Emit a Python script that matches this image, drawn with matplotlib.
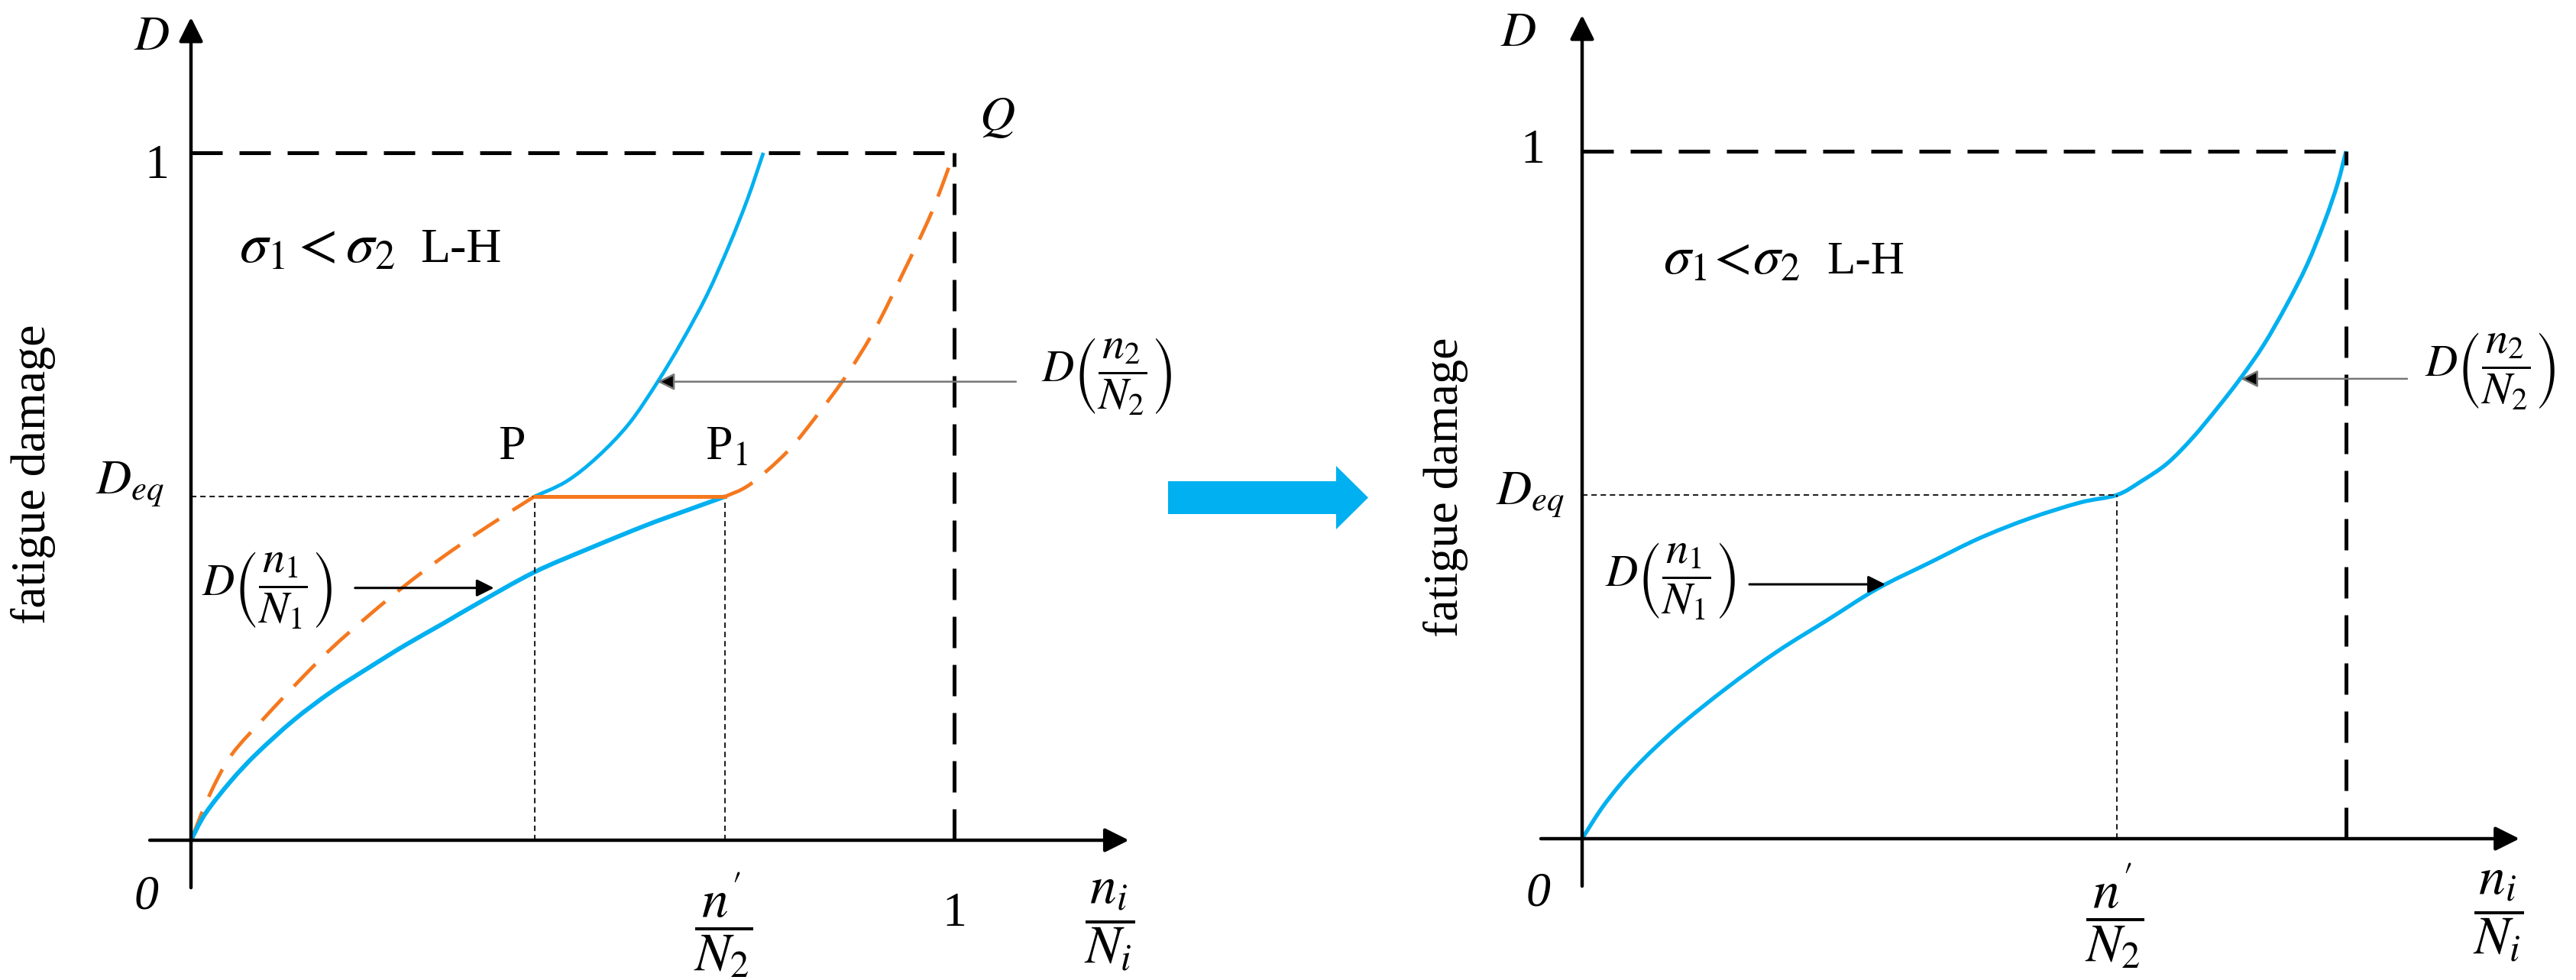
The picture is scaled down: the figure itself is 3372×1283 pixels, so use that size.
import matplotlib
matplotlib.use("Agg")
import matplotlib.pyplot as plt
from matplotlib.patches import FancyArrow, PathPatch
from matplotlib.path import Path

plt.rcParams['font.family'] = ['Liberation Serif', 'DejaVu Serif']
plt.rcParams['mathtext.fontset'] = 'stix'

BLUE = '#00B0F0'
ORANGE = '#F5781E'

# values: x = n_i/N_i, y = damage D
d_eq = 0.5
p_x = 0.45     # point P
p1_x = 0.70    # point P1, n'/N2

# left: blue curve for sigma_1, origin -> P1
low1_x = [0, 0.019, 0.053, 0.087, 0.135, 0.184, 0.233, 0.281, 0.330, 0.378, 0.450, 0.523, 0.596, 0.645, 0.70]
low1_y = [0, 0.039, 0.087, 0.127, 0.175, 0.216, 0.251, 0.284, 0.315, 0.346, 0.390, 0.425, 0.458, 0.478, 0.50]
# left: blue curve for sigma_2, P -> D=1
up2_x = [0.45, 0.492, 0.533, 0.574, 0.611, 0.643, 0.676, 0.705, 0.729, 0.750]
up2_y = [0.50, 0.522, 0.558, 0.606, 0.666, 0.725, 0.793, 0.865, 0.932, 1.0]
# left: orange dashed sigma_2 curve, origin -> P and P1 -> Q
or_low_x = [0, 0.024, 0.053, 0.097, 0.141, 0.184, 0.233, 0.281, 0.330, 0.388, 0.45]
or_low_y = [0, 0.065, 0.124, 0.179, 0.231, 0.279, 0.327, 0.371, 0.412, 0.456, 0.50]
or_up_x = [0.70, 0.733, 0.782, 0.823, 0.860, 0.897, 0.933, 0.970, 1.0]
or_up_y = [0.50, 0.518, 0.566, 0.622, 0.678, 0.745, 0.825, 0.912, 1.0]
# right: equivalent blue curve, origin -> n'/N2 -> 1
right_x = [0, 0.030, 0.070, 0.123, 0.189, 0.255, 0.321, 0.387, 0.454, 0.520, 0.586, 0.652, 0.70,
           0.732, 0.766, 0.799, 0.832, 0.862, 0.892, 0.922, 0.949, 0.972, 0.989, 1.0]
right_y = [0, 0.051, 0.104, 0.160, 0.219, 0.272, 0.318, 0.364, 0.401, 0.437, 0.466, 0.489, 0.500,
           0.520, 0.546, 0.583, 0.627, 0.670, 0.718, 0.776, 0.835, 0.898, 0.953, 1.0]

W, H = 3372, 1283
fig = plt.figure(figsize=(W / 100, H / 100), dpi=100)


def make_axes(ox, oy, sx, sy, xlim, ylim):
    # ox, oy: pixel of the origin (from top-left), sx, sy: pixels per unit
    left = (ox + xlim[0] * sx) / W
    bottom = (H - oy + ylim[0] * sy) / H
    ax = fig.add_axes([left, bottom, (xlim[1] - xlim[0]) * sx / W, (ylim[1] - ylim[0]) * sy / H])
    ax.set_xlim(*xlim)
    ax.set_ylim(*ylim)
    ax.axis('off')
    return ax


def curve(ax, xs, ys, **kw):
    # smooth bezier path through the read points
    pts = list(zip(xs, ys))
    verts, codes = [pts[0]], [Path.MOVETO]
    for i in range(len(pts) - 1):
        p0 = pts[max(i - 1, 0)]
        p1, p2 = pts[i], pts[i + 1]
        p3 = pts[min(i + 2, len(pts) - 1)]
        c1 = (p1[0] + (p2[0] - p0[0]) / 6, p1[1] + (p2[1] - p0[1]) / 6)
        c2 = (p2[0] - (p3[0] - p1[0]) / 6, p2[1] - (p3[1] - p1[1]) / 6)
        verts += [c1, c2, p2]
        codes += [Path.CURVE4] * 3
    ax.add_patch(PathPatch(Path(verts, codes), fill=False, capstyle='butt', joinstyle='round', **kw))


def arrow(ax, start, end, color='k', lw=3.2, ms=48, fc=None):
    ax.annotate('', xy=end, xytext=start,
                arrowprops=dict(arrowstyle='-|>', lw=lw, ec=color, fc=fc or color,
                                mutation_scale=ms, shrinkA=0, shrinkB=0))


def frame(ax, x_end, y_top):
    arrow(ax, (-0.054, 0), (x_end, 0))
    arrow(ax, (0, -0.069), (0, y_top))
    ax.plot([0, 1], [1, 1], color='k', lw=3.6, dashes=(8.2, 4.4))
    ax.plot([1, 1], [0, 1], color='k', lw=3.6, dashes=(8.2, 4.4))


dot = dict(color='#222222', lw=1.5, dashes=(3.4, 2.4))
fs = 46
lab_fs = 50
d_fs = 42

# ---------------- left panel ----------------
ax1 = make_axes(250, 1100, 999, 900, (-0.25, 1.28), (-0.2, 1.2256))
frame(ax1, 1.229, 1.197)
ax1.plot([0, p1_x], [d_eq, d_eq], **dot)
ax1.plot([p_x, p_x], [0, d_eq], **dot)
ax1.plot([p1_x, p1_x], [0, d_eq], **dot)
curve(ax1, or_low_x, or_low_y, ec=ORANGE, lw=3.4, ls=(0, (8.5, 4.5)))
curve(ax1, or_up_x, or_up_y, ec=ORANGE, lw=3.4, ls=(0, (8.5, 4.5)))
ax1.plot([p_x, p1_x], [d_eq, d_eq], color=ORANGE, lw=3.6)
curve(ax1, low1_x, low1_y, ec=BLUE, lw=4.2)
curve(ax1, up2_x, up2_y, ec=BLUE, lw=3.4)

ax1.text(-0.051, 1.167, r'$D$', fontsize=fs, ha='center', va='center')
ax1.text(-0.045, 0.98, '1', fontsize=fs, ha='center', va='center')
ax1.text(-0.059, -0.083, '0', fontsize=fs, style='italic', ha='center', va='center')
ax1.text(1.0, -0.108, '1', fontsize=fs, ha='center', va='center')
ax1.text(1.056, 1.05, r'$Q$', fontsize=fs, ha='center', va='center')
ax1.text(-0.035, 0.504, r'$D_{eq}$', fontsize=fs, ha='right', va='baseline')
ax1.text(0.42, 0.554, 'P', fontsize=fs, ha='center', va='baseline')
ax1.text(0.674, 0.554, r'P$_1$', fontsize=fs, ha='left', va='baseline')
ax1.text(0.063, 0.841, r'$\sigma_1 < \sigma_2$', fontsize=54, ha='left', va='baseline')
ax1.text(0.30, 0.841, 'L-H', fontsize=fs, ha='left', va='baseline')
ax1.text(0.697, -0.124, r"$\dfrac{n'}{N_2}$", fontsize=lab_fs, ha='center', va='center')
ax1.text(1.203, -0.124, r'$\dfrac{n_i}{N_i}$', fontsize=lab_fs, ha='center', va='center')
ax1.text(-0.207, 0.533, 'fatigue damage', fontsize=fs, rotation=90, ha='center', va='center')
ax1.text(0.014, 0.364, r'$D\left(\dfrac{n_1}{N_1}\right)$', fontsize=d_fs, ha='left', va='center')
ax1.text(1.114, 0.675, r'$D\left(\dfrac{n_2}{N_2}\right)$', fontsize=d_fs, ha='left', va='center')
arrow(ax1, (0.215, 0.367), (0.397, 0.367), lw=2.2, ms=34)
arrow(ax1, (1.081, 0.667), (0.611, 0.667), color='#777777', fc='k', lw=1.8, ms=34)

# ---------------- right panel ----------------
ax2 = make_axes(2071, 1098, 1000, 900, (-0.27, 1.30), (-0.2022, 1.2233))
frame(ax2, 1.227, 1.198)
ax2.plot([0, p1_x], [d_eq, d_eq], **dot)
ax2.plot([p1_x, p1_x], [0, d_eq], **dot)
curve(ax2, right_x, right_y, ec=BLUE, lw=3.8)

ax2.text(-0.083, 1.17, r'$D$', fontsize=fs, ha='center', va='center')
ax2.text(-0.065, 1.0, '1', fontsize=fs, ha='center', va='center')
ax2.text(-0.057, -0.08, '0', fontsize=fs, style='italic', ha='center', va='center')
ax2.text(-0.023, 0.5, r'$D_{eq}$', fontsize=fs, ha='right', va='center')
ax2.text(0.106, 0.822, r'$\sigma_1\!<\!\sigma_2$', fontsize=52, ha='left', va='baseline')
ax2.text(0.32, 0.822, 'L-H', fontsize=fs - 2, ha='left', va='baseline')
ax2.text(0.697, -0.113, r"$\dfrac{n'}{N_2}$", fontsize=lab_fs, ha='center', va='center')
ax2.text(1.199, -0.113, r'$\dfrac{n_i}{N_i}$', fontsize=lab_fs, ha='center', va='center')
ax2.text(-0.179, 0.511, 'fatigue damage', fontsize=fs, rotation=90, ha='center', va='center')
ax2.text(0.03, 0.375, r'$D\left(\dfrac{n_1}{N_1}\right)$', fontsize=d_fs, ha='left', va='center')
ax2.text(1.103, 0.68, r'$D\left(\dfrac{n_2}{N_2}\right)$', fontsize=d_fs, ha='left', va='center')
arrow(ax2, (0.219, 0.370), (0.397, 0.370), lw=2.2, ms=34)
arrow(ax2, (1.08, 0.669), (0.862, 0.669), color='#777777', fc='k', lw=1.8, ms=34)

# big blue arrow between the panels
fig.patches.append(FancyArrow(1529 / W, (H - 651.5) / H, 262 / W, 0, width=43 / H,
                              head_width=83 / H, head_length=42 / W, length_includes_head=True,
                              color=BLUE, ec='none', transform=fig.transFigure, figure=fig))

fig.savefig('out.png', dpi=100, facecolor='white')
